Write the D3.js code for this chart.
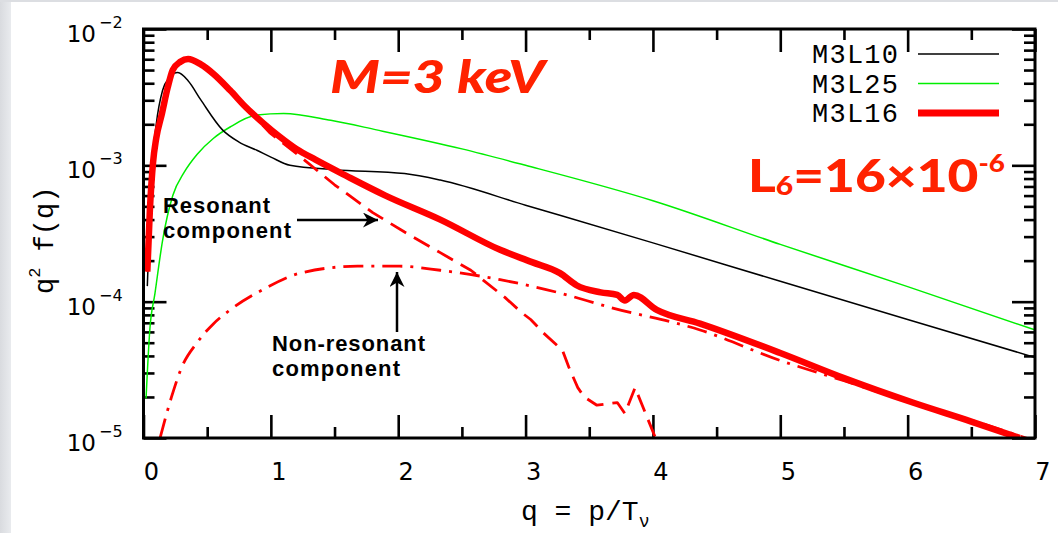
<!DOCTYPE html>
<html>
<head>
<meta charset="utf-8">
<script src="https://cdn.jsdelivr.net/npm/d3@7"></script>
<style>
  body { margin: 0; background: #fff; }
  svg { display: block; }
</style>
</head>
<body>
<svg id="chart" width="1058" height="533"></svg>
<script>
// M3L10 (thin black)
const qM3L10 = [0.03, 0.06, 0.1, 0.15, 0.2, 0.27, 0.35, 0.45, 0.62, 0.75, 0.89, 1.0, 1.15, 1.5, 2.05, 2.33, 3, 4, 5, 6, 7];
const fM3L10 = [1.3e-4, 7.9e-4, 2.0e-3, 3.55e-3, 4.37e-3, 4.79e-3, 4.17e-3, 3.02e-3, 1.82e-3, 1.48e-3, 1.29e-3, 1.15e-3, 1.0e-3, 9.3e-4, 8.7e-4, 7.8e-4, 5.1e-4, 2.7e-4, 1.41e-4, 7.4e-5, 3.9e-5];

// M3L25 (thin green)
const qM3L25 = [0.02, 0.05, 0.09, 0.15, 0.23, 0.32, 0.42, 0.55, 0.68, 0.89, 1.1, 1.47, 1.83, 2.5, 3, 4, 5, 6, 7];
const fM3L25 = [1.95e-5, 6.3e-5, 1.15e-4, 2.82e-4, 6.0e-4, 8.9e-4, 1.2e-3, 1.58e-3, 1.91e-3, 2.34e-3, 2.4e-3, 2.14e-3, 1.82e-3, 1.32e-3, 1.0e-3, 5.5e-4, 2.63e-4, 1.29e-4, 6.2e-5];

// M3L16 (thick red, total)
const qM3L16 = [0.03, 0.05, 0.075, 0.1, 0.145, 0.19, 0.23, 0.29, 0.35, 0.45, 0.55, 0.68, 0.8, 0.94, 1.07, 1.2, 1.35, 1.6, 1.9, 2.33, 2.8, 3.05, 3.27, 3.4, 3.59, 3.72, 3.78, 3.85, 4.03, 4.37, 5, 5.5, 6.04, 6.5, 6.88];
const fM3L16 = [1.66e-4, 4.68e-4, 1.05e-3, 1.58e-3, 2.4e-3, 3.72e-3, 5.01e-3, 5.75e-3, 6.03e-3, 5.5e-3, 4.68e-3, 3.55e-3, 2.69e-3, 2.04e-3, 1.62e-3, 1.32e-3, 1.1e-3, 8.3e-4, 6.0e-4, 4.0e-4, 2.4e-4, 1.95e-4, 1.62e-4, 1.32e-4, 1.17e-4, 1.12e-4, 1.02e-4, 1.12e-4, 8.7e-5, 6.9e-5, 4.2e-5, 2.75e-5, 1.82e-5, 1.32e-5, 1.0e-5];

// resonant component (dashed)
const qRes = [0.03, 0.05, 0.075, 0.1, 0.145, 0.19, 0.23, 0.29, 0.35, 0.45, 0.55, 0.68, 0.8, 0.99, 1.25, 1.5, 1.8, 2.05, 2.33, 2.57, 2.84, 2.97, 3.04, 3.14, 3.29, 3.34, 3.41, 3.46, 3.56, 3.72, 3.78, 3.86, 4.02];
const fRes = [1.66e-4, 4.68e-4, 1.05e-3, 1.58e-3, 2.4e-3, 3.72e-3, 5.01e-3, 5.75e-3, 6.03e-3, 5.5e-3, 4.68e-3, 3.55e-3, 2.69e-3, 1.74e-3, 1.12e-3, 7.2e-4, 4.5e-4, 3.24e-4, 2.29e-4, 1.7e-4, 1.07e-4, 8.3e-5, 7.4e-5, 5.9e-5, 4.4e-5, 3.3e-5, 2.34e-5, 2.0e-5, 1.74e-5, 1.82e-5, 1.51e-5, 2.34e-5, 1.0e-5];

// non-resonant component (dash-dot)
const qNonRes = [0.13, 0.22, 0.3, 0.42, 0.55, 0.68, 0.94, 1.23, 1.68, 2.01, 2.33, 2.8, 3.25, 3.66, 4.37, 5, 5.5, 6, 6.5, 7];
const fNonRes = [1.0e-5, 2.0e-5, 3.3e-5, 5.0e-5, 6.9e-5, 8.7e-5, 1.23e-4, 1.62e-4, 1.82e-4, 1.82e-4, 1.7e-4, 1.45e-4, 1.17e-4, 9.1e-5, 6.2e-5, 3.7e-5, 2.63e-5, 1.86e-5, 1.35e-5, 9.5e-6];

const xMajor = [0, 1, 2, 3, 4, 5, 6, 7];
const xMinor = [0.5, 1.5, 2.5, 3.5, 4.5, 5.5, 6.5];
const yMajor = [1e-5, 1e-4, 1e-3, 1e-2];
const yExp = ["\u22125", "\u22124", "\u22123", "\u22122"];
const legendNames = ["M3L10", "M3L25", "M3L16"];

const svg = d3.select("#chart");
const W = 1058, H = 533;

// slide edge
const grad = svg.append("defs").append("linearGradient").attr("id", "edge");
grad.append("stop").attr("offset", "0%").attr("stop-color", "#d9dbdf");
grad.append("stop").attr("offset", "100%").attr("stop-color", "#e9ebee");
svg.append("rect").attr("width", W).attr("height", H).attr("fill", "#fff");
svg.append("rect").attr("width", 11).attr("height", H).attr("fill", "url(#edge)");
svg.append("rect").attr("width", W).attr("height", 2).attr("fill", "#dcdee2");

const x = d3.scaleLinear().domain([0, 7]).range([143.5, 1035]);
const y = d3.scaleLog().domain([1e-5, 1e-2]).range([438, 29]);
const [x0, x1] = x.range();
const [y0, y1] = y.range();

svg.select("defs").append("clipPath").attr("id", "plot")
    .append("rect").attr("x", x0).attr("y", y1).attr("width", x1 - x0).attr("height", y0 - y1);

// minor log ticks
const yMinor = [];
yMajor.slice(0, 3).forEach(d => { for (let k = 2; k <= 9; k++) yMinor.push(d * k); });

function tickAxis(axis, transform, values, size) {
    const g = svg.append("g").attr("transform", transform)
        .call(axis.tickValues(values).tickSize(size).tickSizeOuter(0).tickFormat(""));
    g.select(".domain").remove();
    g.selectAll(".tick line").attr("stroke", "#000").attr("stroke-width", 2.6);
}
tickAxis(d3.axisBottom(x), `translate(0,${y0})`, xMajor, -23);
tickAxis(d3.axisBottom(x), `translate(0,${y0})`, xMinor, -11);
tickAxis(d3.axisTop(x), `translate(0,${y1})`, xMajor, -23);
tickAxis(d3.axisTop(x), `translate(0,${y1})`, xMinor, -11);
tickAxis(d3.axisLeft(y), `translate(${x0},0)`, yMajor, -23);
tickAxis(d3.axisLeft(y), `translate(${x0},0)`, yMinor, -11);
tickAxis(d3.axisRight(y), `translate(${x1},0)`, yMajor, -23);
tickAxis(d3.axisRight(y), `translate(${x1},0)`, yMinor, -11);

// curves
const line = d3.line().x(d => x(d[0])).y(d => y(d[1]));
const zip = (a, b) => a.map((v, i) => [v, b[i]]);
const curves = svg.append("g").attr("clip-path", "url(#plot)").attr("fill", "none")
    .attr("stroke-linejoin", "round");

curves.append("path").attr("d", line.curve(d3.curveMonotoneX)(zip(qM3L25, fM3L25)))
    .attr("stroke", "#00ee00").attr("stroke-width", 1.5);
curves.append("path").attr("d", line.curve(d3.curveMonotoneX)(zip(qM3L10, fM3L10)))
    .attr("stroke", "#000").attr("stroke-width", 1.5);
curves.append("path").attr("d", line.curve(d3.curveMonotoneX)(zip(qNonRes, fNonRes)))
    .attr("stroke", "#ff0000").attr("stroke-width", 2.8).attr("stroke-dasharray", "20,8,3,8");
curves.append("path").attr("d", line.curve(d3.curveMonotoneX)(zip(qM3L16, fM3L16)))
    .attr("stroke", "#ff0000").attr("stroke-width", 6.5);
curves.append("path").attr("d", line.curve(d3.curveLinear)(zip(qRes, fRes)))
    .attr("stroke", "#ff0000").attr("stroke-width", 2.8).attr("stroke-dasharray", "18,9");

// frame
svg.append("rect").attr("x", x0).attr("y", y1).attr("width", x1 - x0).attr("height", y0 - y1)
    .attr("fill", "none").attr("stroke", "#000").attr("stroke-width", 3);

// tick labels
const tickFont = "'DejaVu Sans', sans-serif";
svg.append("g").selectAll("text").data(xMajor).join("text")
    .attr("x", d => x(d) + 8).attr("y", 480)
    .attr("text-anchor", "middle").attr("font-family", tickFont).attr("font-size", 24)
    .text(d => d);

const yl = svg.append("g").selectAll("g").data(yMajor).join("g");
yl.append("text").attr("x", 96).attr("y", d => y(d) + 13)
    .attr("text-anchor", "end").attr("font-family", tickFont).attr("font-size", 23)
    .text("10");
yl.append("text").attr("x", 99).attr("y", d => y(d) - 1)
    .attr("font-family", tickFont).attr("font-size", 16)
    .text((d, i) => yExp[i]);

// axis titles
const mono = "'Liberation Mono', 'DejaVu Sans Mono', monospace";
const xt = svg.append("text").attr("x", 521).attr("y", 520)
    .attr("font-family", mono).attr("font-size", 28);
xt.append("tspan").text("q = p/T");
xt.append("tspan").attr("dy", 7).attr("font-size", 18).text("\u03bd");

const yt = svg.append("text").attr("transform", "translate(53,294) rotate(-90)")
    .attr("font-family", mono).attr("font-size", 27);
yt.append("tspan").text("q");
yt.append("tspan").attr("dy", -13).attr("font-size", 17).text("2");
yt.append("tspan").attr("dy", 13).text(" f(q)");

// legend
const legendColor = ["#000", "#00ee00", "#ff0000"];
const legendWidth = [1.5, 1.5, 7];
const lg = svg.append("g").selectAll("g").data(legendNames).join("g")
    .attr("transform", (d, i) => `translate(0,${54 + i * 29.5})`);
lg.append("text").attr("x", 898).attr("y", 9).attr("text-anchor", "end")
    .attr("font-family", mono).attr("font-size", 27)
    .attr("textLength", 86).attr("lengthAdjust", "spacing").text(d => d);
lg.append("line").attr("x1", 918).attr("x2", 999).attr("y1", 0).attr("y2", 0)
    .attr("stroke", (d, i) => legendColor[i]).attr("stroke-width", (d, i) => legendWidth[i]);

// big red labels
const redText = "#ff2200";
svg.append("text").attr("x", 330).attr("y", 93)
    .attr("font-family", "Lato, 'Liberation Sans', sans-serif").attr("font-weight", 900)
    .attr("font-style", "italic").attr("font-size", 45).attr("fill", redText)
    .attr("textLength", 215).attr("lengthAdjust", "spacingAndGlyphs")
    .text("M=3 keV");

const lt = svg.append("text").attr("x", 748).attr("y", 192)
    .attr("font-family", "Lato, 'Liberation Sans', sans-serif").attr("font-weight", 900)
    .attr("font-size", 46).attr("fill", redText)
    .attr("textLength", 257).attr("lengthAdjust", "spacingAndGlyphs");
lt.append("tspan").text("L");
lt.append("tspan").attr("dy", 3).attr("font-size", 26).text("6");
lt.append("tspan").attr("dy", -3).text("=16\u00d710");
lt.append("tspan").attr("dy", -20).attr("font-size", 24).text("-6");

// annotations
const ann = svg.append("g").attr("font-family", "'Liberation Sans', Arial, sans-serif")
    .attr("font-weight", "bold").attr("font-size", 22).attr("fill", "#000");
ann.append("text").attr("x", 163).attr("y", 213).attr("textLength", 107).text("Resonant");
ann.append("text").attr("x", 163).attr("y", 238).attr("textLength", 128).text("component");
ann.append("text").attr("x", 272).attr("y", 351).attr("textLength", 153).text("Non-resonant");
ann.append("text").attr("x", 272).attr("y", 376).attr("textLength", 128).text("component");

svg.select("defs").append("marker").attr("id", "head")
    .attr("viewBox", "0 0 10 10").attr("refX", 10).attr("refY", 5)
    .attr("markerWidth", 6).attr("markerHeight", 6).attr("markerUnits", "strokeWidth")
    .attr("orient", "auto")
    .append("path").attr("d", "M0,0 L10,5 L0,10 L3,5 Z").attr("fill", "#000");

svg.append("line").attr("x1", 297).attr("y1", 220).attr("x2", 378).attr("y2", 220)
    .attr("stroke", "#000").attr("stroke-width", 2.5).attr("marker-end", "url(#head)");
svg.append("line").attr("x1", 397).attr("y1", 332).attr("x2", 397).attr("y2", 272)
    .attr("stroke", "#000").attr("stroke-width", 2.5).attr("marker-end", "url(#head)");
</script>
</body>
</html>
